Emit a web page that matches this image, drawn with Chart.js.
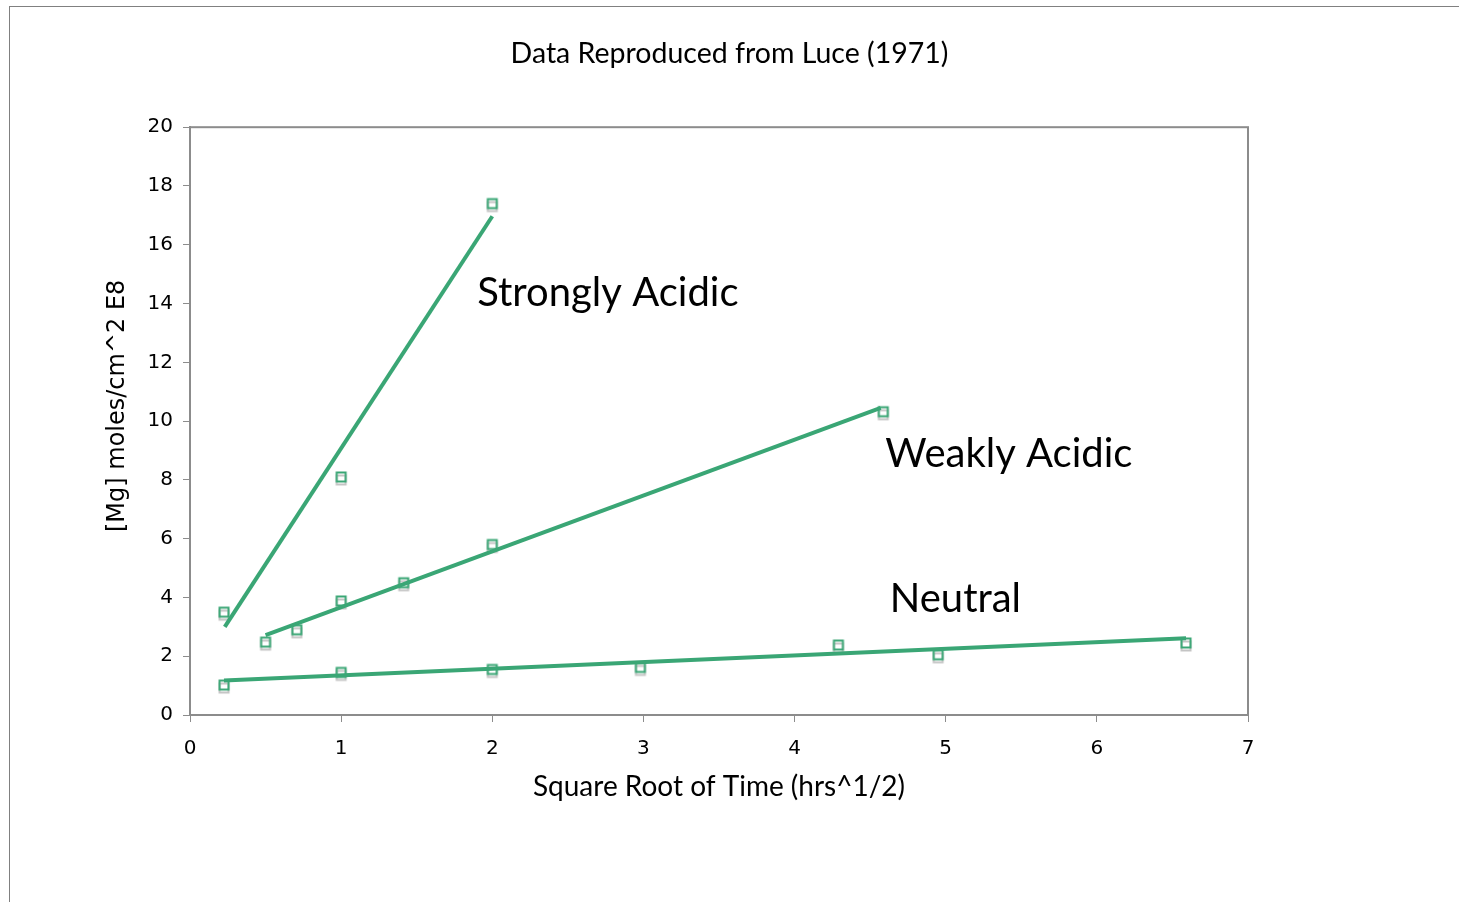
<!DOCTYPE html>
<html lang="en">
<head>
  <meta charset="UTF-8">
  <title>Data Reproduced from Luce (1971)</title>
  <script src="https://cdn.jsdelivr.net/npm/chart.js"></script>
  <style>
    html, body { margin: 0; padding: 0; background: #fff; overflow: hidden; }
    .moldura { position: absolute; left: 9px; top: 6px; width: 1600px; height: 1000px;
      border-left: 1px solid #808080; border-top: 1px solid #808080; }
    .grafico { position: absolute; left: 0; top: 0; width: 1459px; height: 902px; }
  </style>
</head>
<body>
  <div class="moldura"></div>
  <div class="grafico"><canvas id="grafico" width="1459" height="902"></canvas></div>

  <script>
    const seriesNames = ['Strongly Acidic', 'Weakly Acidic', 'Neutral'];

    // measured points
    const strongX = [0.225, 1.0, 2.0];
    const strongY = [3.5, 8.1, 17.4];
    const weakX = [0.5, 0.707, 1.0, 1.414, 2.0, 4.587];
    const weakY = [2.48, 2.9, 3.88, 4.5, 5.8, 10.32];
    const neutralX = [0.225, 1.0, 2.0, 2.98, 4.29, 4.95, 6.59];
    const neutralY = [1.02, 1.45, 1.55, 1.62, 2.38, 2.05, 2.45];

    // trend lines (end points)
    const strongFitX = [0.23, 2.0];
    const strongFitY = [3.0, 16.97];
    const weakFitX = [0.5, 4.57];
    const weakFitY = [2.72, 10.45];
    const neutralFitX = [0.225, 6.59];
    const neutralFitY = [1.17, 2.61];

    // axes
    const xTicks = [0, 1, 2, 3, 4, 5, 6, 7];
    const yTicks = [0, 2, 4, 6, 8, 10, 12, 14, 16, 18, 20];

    const verde = 'rgb(58, 166, 117)';

    const pontos = (xs, ys) => xs.map((x, i) => ({ x: x, y: ys[i] }));

    // square marker with a grey drop shadow
    function criaMarcador() {
      const c = document.createElement('canvas');
      c.width = 14;
      c.height = 20;
      const g = c.getContext('2d');
      g.lineWidth = 2;
      g.strokeStyle = 'rgba(190, 190, 190, 0.9)';
      g.strokeRect(2.5, 8.5, 9, 9);
      g.strokeStyle = verde;
      g.strokeRect(2.5, 5.5, 9, 9);
      return c;
    }
    const marcador = criaMarcador();

    const bordaArea = {
      id: 'bordaArea',
      beforeDatasetsDraw(chart) {
        const { ctx, chartArea: a } = chart;
        ctx.save();
        ctx.strokeStyle = '#8c8c8c';
        ctx.lineWidth = 2;
        ctx.strokeRect(a.left, a.top, a.right - a.left, a.bottom - a.top);
        ctx.restore();
      }
    };

    const rotulos = {
      id: 'rotulos',
      afterDatasetsDraw(chart, args, opts) {
        const { ctx, scales: { x, y } } = chart;
        ctx.save();
        ctx.font = opts.font;
        ctx.fillStyle = '#000';
        ctx.textBaseline = 'alphabetic';
        ctx.textAlign = 'left';
        opts.itens.forEach(it => {
          ctx.fillText(it.text, x.getPixelForValue(it.x), y.getPixelForValue(it.y));
        });
        ctx.restore();
      }
    };

    const linha = (xs, ys) => ({
      data: pontos(xs, ys),
      showLine: true,
      borderColor: verde,
      borderWidth: 4,
      pointRadius: 0
    });

    const marcas = (xs, ys) => ({
      data: pontos(xs, ys),
      showLine: false,
      pointStyle: marcador,
      pointRadius: 6
    });

    new Chart(document.getElementById('grafico'), {
      type: 'scatter',
      data: {
        datasets: [
          linha(strongFitX, strongFitY),
          linha(weakFitX, weakFitY),
          linha(neutralFitX, neutralFitY),
          marcas(strongX, strongY),
          marcas(weakX, weakY),
          marcas(neutralX, neutralY)
        ]
      },
      options: {
        responsive: false,
        animation: false,
        devicePixelRatio: 1,
        layout: { padding: 0 },
        plugins: {
          legend: { display: false },
          tooltip: { enabled: false },
          title: {
            display: true,
            text: 'Data Reproduced from Luce (1971)',
            color: '#000',
            font: { family: 'Lato', size: 28.5, weight: 'normal' },
            padding: { top: 37, bottom: 56 }
          },
          rotulos: {
            font: 'normal 40px Lato',
            itens: [
              { text: seriesNames[0], x: 1.9, y: 13.9 },
              { text: seriesNames[1], x: 4.6, y: 8.45 },
              { text: seriesNames[2], x: 4.63, y: 3.5 }
            ]
          }
        },
        scales: {
          x: {
            type: 'linear',
            min: xTicks[0],
            max: xTicks[xTicks.length - 1],
            afterBuildTicks: s => { s.ticks = xTicks.map(v => ({ value: v })); },
            afterFit: s => { s.height = 187; },
            ticks: { color: '#000', padding: 15, font: { family: 'DejaVu Sans', size: 20 } },
            grid: { drawOnChartArea: false, tickLength: 7, color: '#8c8c8c' },
            border: { color: '#8c8c8c', width: 2 },
            title: {
              display: true,
              text: 'Square Root of Time (hrs^1/2)',
              color: '#000',
              font: { family: 'Lato', size: 28, weight: 'normal' },
              padding: { top: 0, bottom: 98 }
            }
          },
          y: {
            type: 'linear',
            min: yTicks[0],
            max: yTicks[yTicks.length - 1],
            afterBuildTicks: s => { s.ticks = yTicks.map(v => ({ value: v })); },
            afterFit: s => { s.width = 190; },
            ticks: { color: '#000', padding: 10, font: { family: 'DejaVu Sans', size: 20 } },
            grid: { drawOnChartArea: false, tickLength: 7, color: '#8c8c8c' },
            border: { color: '#8c8c8c', width: 2 },
            title: {
              display: true,
              text: '    [Mg] moles/cm^2 E8',
              color: '#000',
              font: { family: 'DejaVu Sans', size: 24 },
              padding: { top: 103, bottom: 0 }
            }
          },
          margemDireita: {
            type: 'linear',
            position: 'right',
            afterFit: s => { s.width = 211; },
            ticks: { display: false },
            grid: { display: false },
            border: { display: false }
          }
        }
      },
      plugins: [bordaArea, rotulos]
    });
  </script>
</body>
</html>
